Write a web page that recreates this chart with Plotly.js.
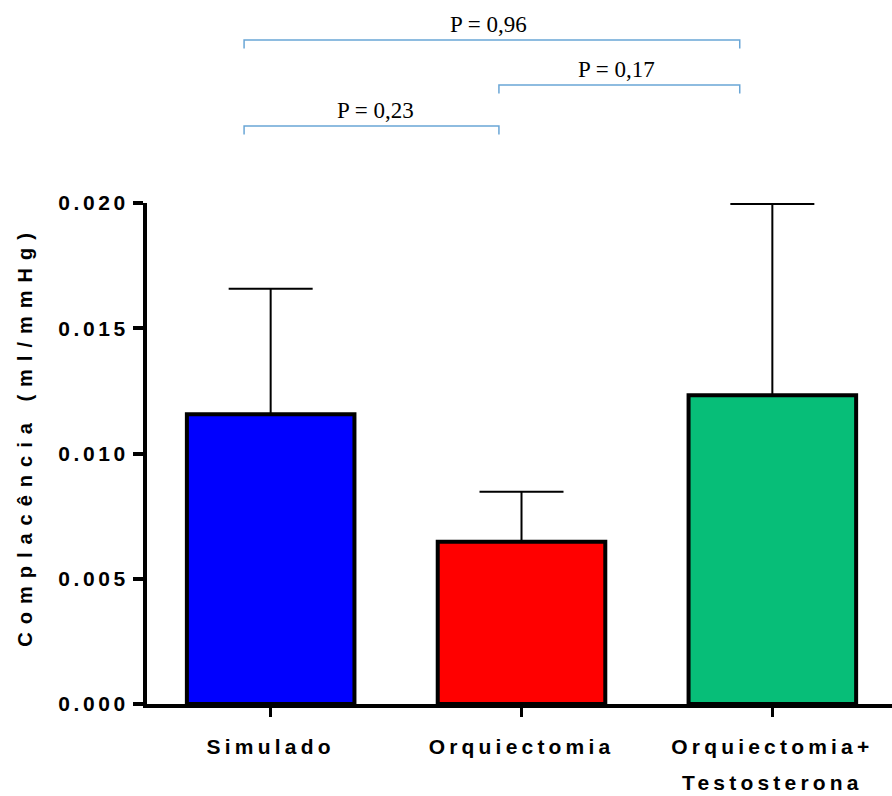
<!DOCTYPE html>
<html>
<head>
<meta charset="utf-8">
<script src="https://cdn.plot.ly/plotly-3.0.1.min.js"></script>
<style>
  html, body { margin: 0; padding: 0; background: #fff; }
  #chart { width: 892px; height: 796px; }
  .xtick text { letter-spacing: 4.2px; }
  .ytick text { letter-spacing: 3.6px; }
  .annotation[data-index="3"] text { letter-spacing: 8px; }
</style>
</head>
<body>
<div id="chart"></div>
<script>
// ---- data ----
const categories = ['Simulado', 'Orquiectomia', 'Orquiectomia+ Testosterona'];
const tickLabels = ['Simulado', 'Orquiectomia', 'Orquiectomia+<br>Testosterona'];
const means = [0.01157, 0.00648, 0.01233];
const errorsUp = [0.00501, 0.00199, 0.00763];
const errorsDown = [0, 0, 0];
const barColors = ['#0000FF', '#FF0000', '#07BE78'];
const yTickValues = [0, 0.005, 0.010, 0.015, 0.020];
const yTitle = 'Complacência (ml/mmHg)';

// significance comparisons
const compFrom = [-0.106, 0.91, -0.106];
const compTo = [0.91, 1.87, 1.87];
const compLabels = ['P = 0,23', 'P = 0,17', 'P = 0,96'];
const compLevel = [1.1537, 1.2355, 1.3253]; // paper y of bracket line
const compTextShift = [4, -3, -3];

const sansBold = { family: 'Liberation Sans, Arial, sans-serif', weight: 'bold', color: '#000' };

const shapes = [];
const annotations = [];
const drop = 0.017;
for (let i = 0; i < compLabels.length; i++) {
  shapes.push({
    type: 'path', xref: 'x', yref: 'paper',
    path: 'M ' + compFrom[i] + ',' + (compLevel[i] - drop) +
          ' L ' + compFrom[i] + ',' + compLevel[i] +
          ' L ' + compTo[i] + ',' + compLevel[i] +
          ' L ' + compTo[i] + ',' + (compLevel[i] - drop),
    line: { color: '#6AA6D6', width: 1.5 }
  });
  annotations.push({
    xref: 'x', yref: 'paper',
    x: (compFrom[i] + compTo[i]) / 2, y: compLevel[i],
    xanchor: 'center', yanchor: 'bottom', yshift: 1, xshift: compTextShift[i],
    text: compLabels[i], showarrow: false,
    font: { family: 'Liberation Serif, Times New Roman, serif', size: 23, color: '#000' }
  });
}
// y-axis title (as annotation so it can be placed like the original)
annotations.push({
  xref: 'paper', yref: 'paper', x: -0.164, y: 0.535,
  xanchor: 'center', yanchor: 'middle', textangle: -90,
  text: yTitle, showarrow: false,
  font: Object.assign({ size: 20 }, sansBold)
});

const trace = {
  type: 'bar',
  x: categories,
  y: means,
  width: 0.668,
  marker: { color: barColors, line: { color: '#000', width: 4 } },
  error_y: {
    type: 'data', symmetric: false,
    array: errorsUp, arrayminus: errorsDown,
    color: '#000', thickness: 2, width: 42
  },
  hoverinfo: 'none'
};

const layout = {
  width: 892, height: 796,
  margin: { l: 147, r: 0, t: 203, b: 92 },
  paper_bgcolor: '#fff', plot_bgcolor: '#fff',
  showlegend: false,
  bargap: 0,
  xaxis: {
    type: 'category',
    range: [-0.493, 2.477],
    tickvals: categories,
    ticktext: tickLabels.map(t => t.split('<br>').map(s => '<span style="font-size:21px">' + s + '</span>').join('<br>')),
    showline: true, linecolor: '#000', linewidth: 4,
    ticks: 'outside', ticklen: 9, tickwidth: 3, tickcolor: '#000',
    tickfont: Object.assign({ size: 28 }, sansBold),
    ticklabelstandoff: 3,
    showgrid: false, zeroline: false, fixedrange: true
  },
  yaxis: {
    range: [0, 0.020],
    tickvals: yTickValues,
    tickformat: '.3f',
    showline: true, linecolor: '#000', linewidth: 4,
    ticks: 'outside', ticklen: 10, tickwidth: 4, tickcolor: '#000',
    tickfont: Object.assign({ size: 21 }, sansBold),
    showgrid: false, zeroline: false, fixedrange: true
  },
  shapes: shapes,
  annotations: annotations
};

Plotly.newPlot('chart', [trace], layout, { displayModeBar: false, staticPlot: true });
</script>
</body>
</html>
